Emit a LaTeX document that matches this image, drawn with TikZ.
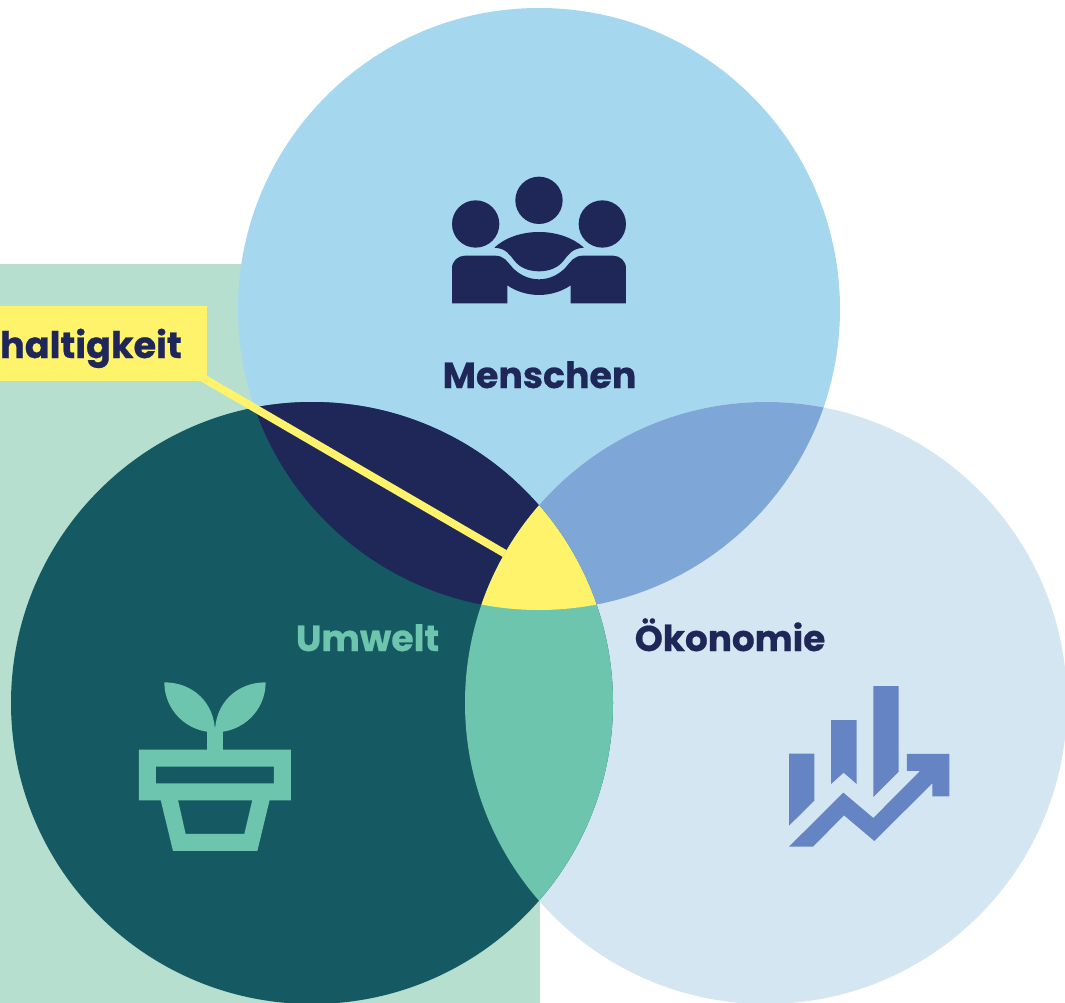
\documentclass[tikz,border=0pt]{standalone}
\usepackage{fontspec}
\setmainfont{Poppins}[BoldFeatures={FakeBold=0.6}]
\definecolor{bggreen}{HTML}{B6DFD0}
\definecolor{topc}{HTML}{A5D7EF}
\definecolor{rightc}{HTML}{D4E6F1}
\definecolor{leftc}{HTML}{155A62}
\definecolor{topright}{HTML}{7EA7D8}
\definecolor{topleft}{HTML}{1F2759}
\definecolor{leftright}{HTML}{6CC5AC}
\definecolor{centre}{HTML}{FFF36B}
\definecolor{chart}{HTML}{6584C4}
\def\ctop{(539,309) circle[radius=301]}
\def\cleft{(312,703) circle[radius=301]}
\def\cright{(766,703) circle[radius=301]}
\tikzset{
  lab/.style={font=\fontsize{36.3}{40}\selectfont\bfseries, anchor=base, inner sep=0pt},
  iconscale/.style={x=0.3333pt,y=-0.3333pt},
}
\begin{document}
\begin{tikzpicture}[x=1pt,y=-1pt]
\useasboundingbox (0,0) rectangle (1065,1003);
\clip (0,0) rectangle (1065,1003);
\fill[bggreen] (0,264) rectangle (540,1003);
\fill[topc] \ctop;
\fill[rightc] \cright;
\fill[leftc] \cleft;
\begin{scope}\clip \ctop; \fill[topright] \cright; \end{scope}
\begin{scope}\clip \ctop; \fill[topleft] \cleft; \end{scope}
\begin{scope}\clip \cleft; \fill[leftright] \cright; \end{scope}
\begin{scope}\clip \ctop; \clip \cleft; \fill[centre] \cright; \end{scope}
% label and leader
\node[fill=centre, minimum width=207pt, minimum height=75pt, inner sep=0pt, anchor=north west] (label) at (0,306) {};
\coordinate (leadstart) at (198,375.1);
\coordinate (leadend) at (504.7,553.5);
\draw[centre, line width=7.8pt] (leadstart) -- (leadend);
\node[lab, anchor=base east, text=topleft, font=\fontsize{36.6}{40}\selectfont\bfseries] (nach) at (182,358) {haltigkeit};
% texts
\node[lab, text=topleft] (menschen) at (539.5,388) {Menschen};
\node[lab, text=leftright] (umwelt) at (367.5,651) {Umwelt};
\node[lab, text=topleft, font=\fontsize{35.8}{40}\selectfont\bfseries] (oekonomie) at (730,651) {Ökonomie};
% people icon
\begin{scope}[shift={(430,160)},iconscale]
\fill[topleft] (327,121) circle[radius=71];
\fill[topleft] (137,192) circle[radius=71];
\fill[topleft] (517,192) circle[radius=71];
\fill[topleft] (193,263) .. controls (225,233) and (275,216) .. (327,216)
  .. controls (379,216) and (429,233) .. (462,263)
  .. controls (425,265) and (415,285) .. (400,303)
  .. controls (385,322) and (360,334) .. (327,334)
  .. controls (294,334) and (269,322) .. (254,303)
  .. controls (239,285) and (229,265) .. cycle;
\fill[topleft] (66,430) -- (66,325) .. controls (66,303) and (84,287) .. (105,287)
  -- (195,287) .. controls (222,287) and (232,305) .. (245,320)
  .. controls (265,343) and (295,358) .. (327,358)
  .. controls (359,358) and (389,343) .. (409,320)
  .. controls (422,305) and (432,287) .. (459,287)
  -- (549,287) .. controls (570,287) and (588,303) .. (588,325)
  -- (588,430) -- (422,430) -- (422,376)
  .. controls (395,395) and (360,405) .. (327,405)
  .. controls (294,405) and (259,395) .. (232,376)
  -- (232,430) -- cycle;
\end{scope}
% plant icon
\begin{scope}[shift={(120,670)},iconscale]
\fill[leftright] (133,37) .. controls (220,37) and (285,100) .. (285,187)
  .. controls (200,187) and (133,120) .. cycle;
\fill[leftright] (437,37) .. controls (350,37) and (285,100) .. (285,187)
  .. controls (370,187) and (437,120) .. cycle;
\fill[leftright] (260,180) rectangle (310,245);
\fill[leftright, even odd rule] (57,239) rectangle (513,391) (108,290) rectangle (462,340);
\fill[leftright, even odd rule] (122,390) -- (159,543) -- (412,543) -- (449,390) -- cycle
  (174,390) -- (197,492) -- (373,492) -- (397,390) -- cycle;
\end{scope}
% chart icon
\begin{scope}[shift={(770,670)},iconscale]
\fill[chart] (57,251) -- (133,251) -- (133,392) -- (57,467) -- cycle;
\fill[chart] (183,150) -- (260,150) -- (260,342) -- (221,308) -- (183,342) -- cycle;
\fill[chart] (310,48) -- (386,48) -- (386,305) -- (310,381) -- cycle;
\fill[chart] (57,530) -- (220,368) -- (310,444) -- (450,303) -- (411,303) -- (411,252)
  -- (538,252) -- (538,379) -- (487,379) -- (487,340) -- (313,513) -- (222,436) -- (129,530) -- cycle;
\end{scope}
\end{tikzpicture}
\end{document}
